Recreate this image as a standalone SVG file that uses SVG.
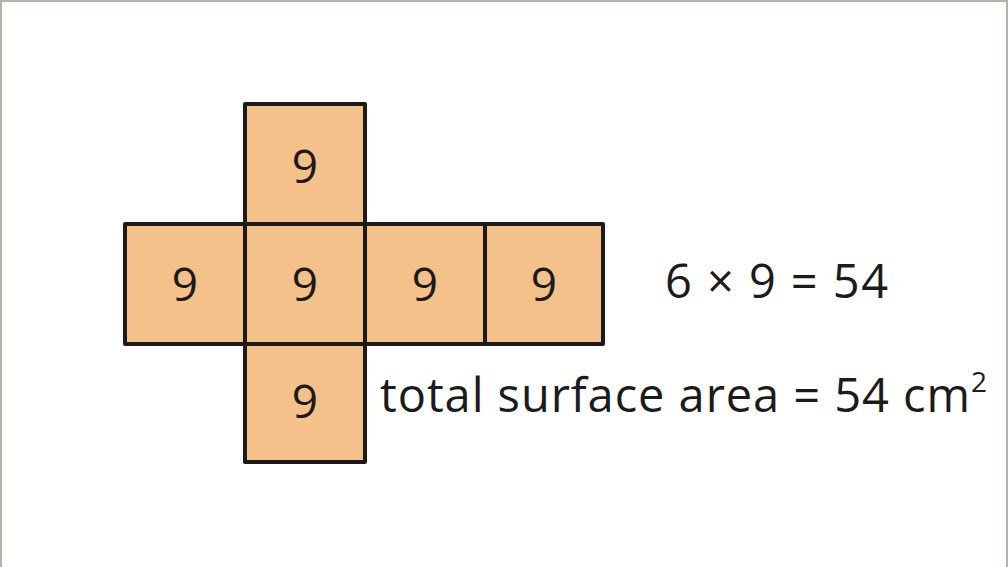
<svg xmlns="http://www.w3.org/2000/svg" width="1008" height="567" viewBox="0 0 1008 567">
<style>
.face{fill:#f4c18a;stroke:#1c1a1a;stroke-width:4;stroke-linejoin:round}
.num{font-family:"Open Sans","Liberation Sans",Arial,sans-serif;font-size:46px;fill:#1c1a1a;text-anchor:middle}
.eq{font-family:"Open Sans","Liberation Sans",Arial,sans-serif;font-size:47px;fill:#1c1a1a}
</style>
<rect x="0" y="0" width="1008" height="567" fill="#ffffff"/>
<rect x="1" y="1" width="1006" height="567" fill="none" stroke="#b8b1a9" stroke-width="2"/>
<g id="face-top"><rect class="face" x="245" y="104" width="120" height="120"/><text class="num" x="305" y="183">9</text></g>
<g id="face-left"><rect class="face" x="125" y="224" width="120" height="120"/><text class="num" x="185" y="301">9</text></g>
<g id="face-center"><rect class="face" x="245" y="224" width="120" height="120"/><text class="num" x="305" y="301">9</text></g>
<g id="face-right"><rect class="face" x="365" y="224" width="120" height="120"/><text class="num" x="425" y="301">9</text></g>
<g id="face-far-right"><rect class="face" x="485" y="224" width="118" height="120"/><text class="num" x="544" y="301">9</text></g>
<g id="face-bottom"><rect class="face" x="245" y="344" width="120" height="118"/><text class="num" x="305" y="418">9</text></g>
<g id="connectors"></g>
<text class="eq" x="665" y="298" textLength="223" lengthAdjust="spacing">6 × 9 = 54</text>
<text class="eq" x="380" y="412"><tspan textLength="590" lengthAdjust="spacing">total surface area = 54 cm</tspan><tspan font-size="28" dy="-20">2</tspan></text>
</svg>
